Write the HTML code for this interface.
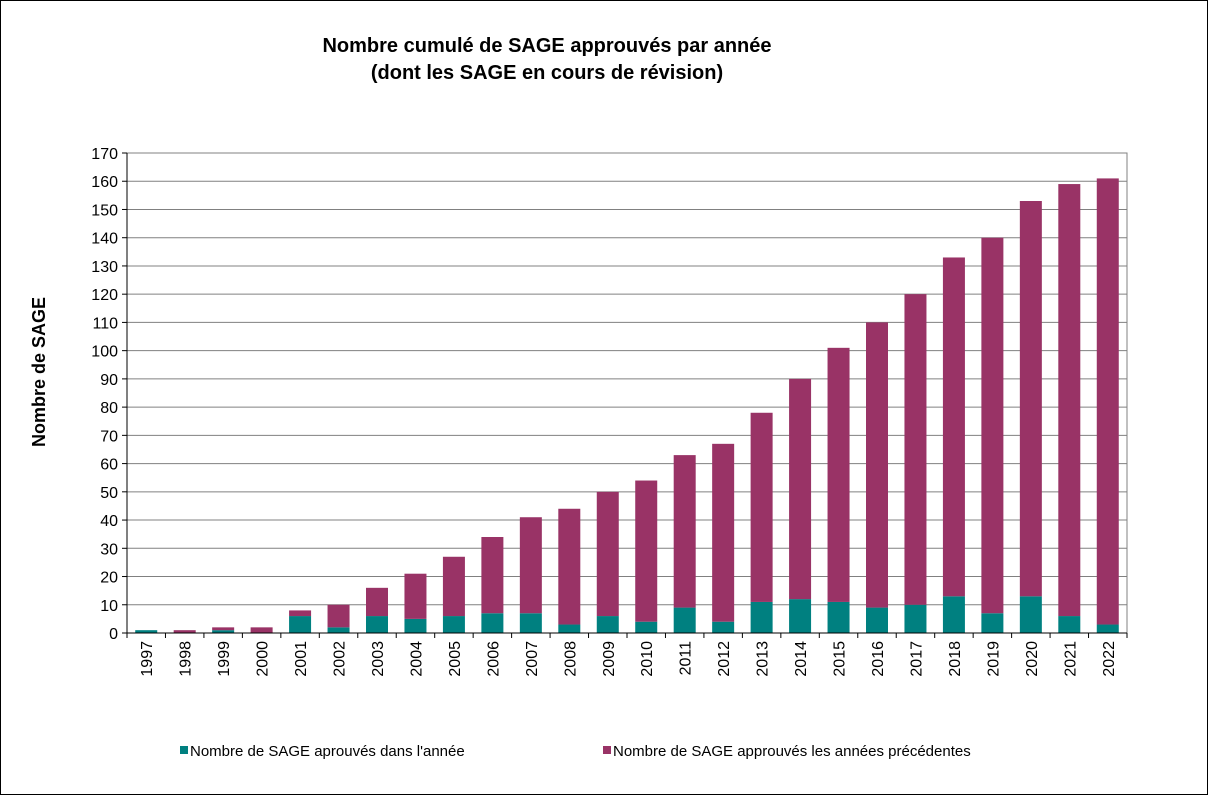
<!DOCTYPE html>
<html><head><meta charset="utf-8"><style>
body{margin:0;background:#fff;}
svg{display:block;font-family:"Liberation Sans",Arial,sans-serif;}
</style></head><body>
<svg id="chart" width="1208" height="795">
<rect x="0.5" y="0.5" width="1207" height="794" fill="#fff" stroke="#000"/>
<text x="547" y="52" text-anchor="middle" font-size="20" font-weight="bold">Nombre cumulé de SAGE approuvés par année</text>
<text x="547" y="79" text-anchor="middle" font-size="20" font-weight="bold">(dont les SAGE en cours de révision)</text>
<text transform="translate(45,372) rotate(-90)" text-anchor="middle" font-size="18" font-weight="bold">Nombre de SAGE</text>
<g id="grid"></g><g id="bars"></g><g id="axes"></g>
<rect x="180" y="746" width="8" height="8" fill="#008080"/>
<text x="190" y="756" font-size="15">Nombre de SAGE aprouvés dans l'année</text>
<rect x="603" y="746" width="8" height="8" fill="#993366"/>
<text x="613" y="756" font-size="15">Nombre de SAGE approuvés les années précédentes</text>
</svg>
<script>
const years=["1997","1998","1999","2000","2001","2002","2003","2004","2005","2006","2007","2008","2009","2010","2011","2012","2013","2014","2015","2016","2017","2018","2019","2020","2021","2022"];
const inYear=[1,0,1,0,6,2,6,5,6,7,7,3,6,4,9,4,11,12,11,9,10,13,7,13,6,3];
const totals=[1,1,2,2,8,10,16,21,27,34,41,44,50,54,63,67,78,90,101,110,120,133,140,153,159,161];
const yTicks=[0,10,20,30,40,50,60,70,80,90,100,110,120,130,140,150,160,170];
const X0=127,X1=1127,Y0=633,Y1=153,YMAX=170;
const ns="http://www.w3.org/2000/svg";
const y=v=>Y0-(v/YMAX)*(Y0-Y1);
const cw=(X1-X0)/years.length;
const xc=i=>X0+cw*(i+0.5);
function mk(t,a,p){const e=document.createElementNS(ns,t);for(const k in a)e.setAttribute(k,a[k]);p.appendChild(e);return e;}
const grid=document.getElementById('grid'),bars=document.getElementById('bars'),axes=document.getElementById('axes');
mk('rect',{x:X0,y:Y1,width:X1-X0,height:Y0-Y1,fill:'none',stroke:'#808080'},grid);
yTicks.forEach(v=>{
  const l=mk('line',{x1:X0,x2:X1,y1:y(v),y2:y(v),stroke:'#808080','stroke-width':1},grid);
  
  
  mk('line',{x1:X0-5,x2:X0,y1:y(v),y2:y(v),stroke:'#000'},axes);
  const t=mk('text',{x:X0-9,y:y(v)+6,'text-anchor':'end','font-size':16},axes);
  t.textContent=v;
  
  
});
const bw=22;
years.forEach((yr,i)=>{
  const prev=totals[i]-inYear[i];
  const a=mk('rect',{x:xc(i)-bw/2,y:y(inYear[i]),width:bw,height:Y0-y(inYear[i]),fill:'#008080'},bars);
  
  
  const b=mk('rect',{x:xc(i)-bw/2,y:y(totals[i]),width:bw,height:y(inYear[i])-y(totals[i]),fill:'#993366'},bars);
  
  
  const t=mk('text',{transform:`translate(${xc(i)+6},${Y0+8}) rotate(-90)`,'text-anchor':'end','font-size':16},axes);
  t.textContent=yr;
  
  
});
for(let i=0;i<=years.length;i++){const x=X0+cw*i;mk('line',{x1:x,x2:x,y1:Y0,y2:Y0+5,stroke:'#000'},axes);}
mk('line',{x1:X0,x2:X0,y1:Y1,y2:Y0,stroke:'#000'},axes);
mk('line',{x1:X0,x2:X1,y1:Y0,y2:Y0,stroke:'#000'},axes);
</script>
</body></html>
